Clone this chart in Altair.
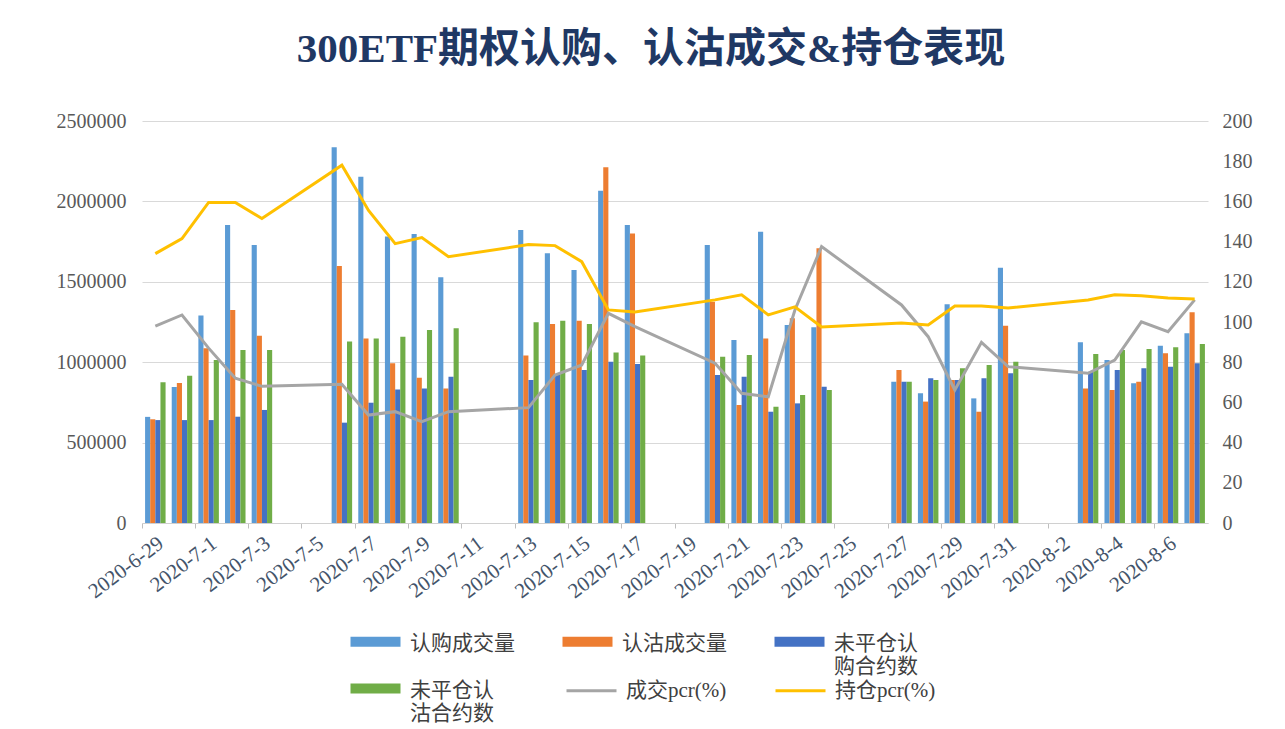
import altair as alt
import pandas as pd

# ---------------- data ----------------
trade_dates = ["2020-6-29", "2020-6-30", "2020-7-1", "2020-7-2", "2020-7-3",
               "2020-7-6", "2020-7-7", "2020-7-8", "2020-7-9", "2020-7-10",
               "2020-7-13", "2020-7-14", "2020-7-15", "2020-7-16", "2020-7-17",
               "2020-7-20", "2020-7-21", "2020-7-22", "2020-7-23", "2020-7-24",
               "2020-7-27", "2020-7-28", "2020-7-29", "2020-7-30", "2020-7-31",
               "2020-8-3", "2020-8-4", "2020-8-5", "2020-8-6", "2020-8-7"]

all_dates = ["2020-6-29", "2020-6-30", "2020-7-1", "2020-7-2", "2020-7-3", "2020-7-4",
             "2020-7-5", "2020-7-6", "2020-7-7", "2020-7-8", "2020-7-9", "2020-7-10",
             "2020-7-11", "2020-7-12", "2020-7-13", "2020-7-14", "2020-7-15", "2020-7-16",
             "2020-7-17", "2020-7-18", "2020-7-19", "2020-7-20", "2020-7-21", "2020-7-22",
             "2020-7-23", "2020-7-24", "2020-7-25", "2020-7-26", "2020-7-27", "2020-7-28",
             "2020-7-29", "2020-7-30", "2020-7-31", "2020-8-1", "2020-8-2", "2020-8-3",
             "2020-8-4", "2020-8-5", "2020-8-6", "2020-8-7"]

label_dates = ["2020-6-29", "2020-7-1", "2020-7-3", "2020-7-5", "2020-7-7", "2020-7-9",
               "2020-7-11", "2020-7-13", "2020-7-15", "2020-7-17", "2020-7-19", "2020-7-21",
               "2020-7-23", "2020-7-25", "2020-7-27", "2020-7-29", "2020-7-31", "2020-8-2",
               "2020-8-4", "2020-8-6"]

call_volume = [660000, 845000, 1290000, 1853000, 1729000,
               2336000, 2154000, 1781000, 1797000, 1528000,
               1822000, 1677000, 1573000, 2067000, 1853000,
               1729000, 1138000, 1812000, 1231000, 1217000,
               879000, 807000, 1360000, 775000, 1588000,
               1124000, 1014000, 869000, 1103000, 1180000]

put_volume = [645000, 870000, 1086000, 1325000, 1165000,
              1598000, 1148000, 993000, 904000, 837000,
              1041000, 1238000, 1258000, 2212000, 1801000,
              1376000, 734000, 1148000, 1273000, 1708000,
              951000, 755000, 889000, 692000, 1227000,
              837000, 827000, 879000, 1055000, 1310000]

call_open = [640000, 640000, 640000, 661000, 703000,
             624000, 748000, 831000, 837000, 910000,
             889000, 920000, 951000, 1003000, 989000,
             920000, 910000, 692000, 744000, 848000,
             879000, 900000, 889000, 900000, 931000,
             941000, 951000, 962000, 972000, 993000]

put_open = [875000, 915000, 1014000, 1076000, 1076000,
            1128000, 1148000, 1159000, 1200000, 1211000,
            1248000, 1258000, 1238000, 1061000, 1041000,
            1034000, 1045000, 723000, 796000, 827000,
            879000, 889000, 962000, 983000, 1003000,
            1051000, 1076000, 1082000, 1093000, 1113000]

trade_pcr = [98, 103.5, 87, 72, 68,
             69, 53.7, 55.4, 50.4, 55.4,
             57.4, 73.6, 78.6, 104.3, 97.7,
             79.5, 64.5, 62.8, 106, 137.5,
             108.5, 92.7, 66.2, 89.9, 77.8,
             74.5, 81, 100.1, 95.2, 111]

hold_pcr = [134, 141.5, 159.5, 159.5, 151.5,
            178, 155.5, 139, 142, 132.5,
            138.5, 138, 130, 106, 105,
            111, 113.5, 103.5, 107.5, 97.5,
            99.5, 98.5, 108, 108, 107,
            111, 113.5, 113, 112, 111.5]

bar_series = ["认购成交量", "认沽成交量", "未平仓认购合约数", "未平仓认沽合约数"]
bar_colors = ["#5B9BD5", "#ED7D31", "#4472C4", "#70AD47"]
line_series = ["成交pcr(%)", "持仓pcr(%)"]
line_colors = ["#A5A5A5", "#FFC000"]

# ---------------- tables ----------------
bar_rows = []
for s, vals in zip(bar_series, [call_volume, put_volume, call_open, put_open]):
    for i, (d, v) in enumerate(zip(trade_dates, vals)):
        bar_rows.append({"date": d, "series": s, "value": v, "idx": i})
bar_df = pd.DataFrame(bar_rows)

line_rows = []
for s, vals in zip(line_series, [trade_pcr, hold_pcr]):
    for i, (d, v) in enumerate(zip(trade_dates, vals)):
        line_rows.append({"date": d, "series": s, "value": v, "idx": i})
line_df = pd.DataFrame(line_rows)

SERIF = "Liberation Serif, Noto Sans CJK SC"

x_enc = alt.X(
    "date:N",
    sort=all_dates,
    scale=alt.Scale(domain=all_dates, paddingInner=0, paddingOuter=0),
    axis=alt.Axis(
        values=label_dates, bandPosition=0, labelAngle=323, labelAlign="right",
        labelBaseline="middle", labelOffset=6, labelPadding=13, tickSize=5,
        tickColor="#BFBFBF", domainColor="#D0D0D0", labelFont=SERIF,
        labelFontSize=21, labelColor="#44546A", labelOverlap=False, grid=False,
        title=None,
    ),
)

bars = alt.Chart(bar_df).mark_bar().encode(
    x=x_enc,
    xOffset=alt.XOffset("series:N", sort=bar_series,
                        scale=alt.Scale(domain=bar_series, paddingOuter=0.6, paddingInner=0)),
    y=alt.Y("value:Q", scale=alt.Scale(domain=[0, 2500000]),
            axis=alt.Axis(values=[0, 500000, 1000000, 1500000, 2000000, 2500000],
                          format="d", grid=True, gridColor="#D9D9D9", domain=False,
                          ticks=False, labelFont=SERIF, labelFontSize=20,
                          labelColor="#595959", labelPadding=16, title=None)),
    color=alt.Color("series:N", sort=bar_series,
                    scale=alt.Scale(domain=bar_series, range=bar_colors),
                    legend=alt.Legend(
                        title=None, orient="none", legendX=221, legendY=510,
                        direction="horizontal", columns=3, columnPadding=47,
                        rowPadding=1, padding=0,
                        symbolType="M-2,-0.56H2V0.24H-2Z", symbolSize=625,
                        symbolStrokeWidth=0, labelFont=SERIF, labelFontSize=21,
                        labelColor="#404040", labelOffset=22, labelLimit=400,
                        labelExpr="length(datum.label) > 5 ? [substring(datum.label, 0, 4), substring(datum.label, 4)] : [datum.label, '']",
                    )),
)

lines = alt.Chart(line_df).mark_line(strokeWidth=3).encode(
    x=x_enc,
    y=alt.Y("value:Q", scale=alt.Scale(domain=[0, 200]),
            axis=alt.Axis(orient="right", values=list(range(0, 201, 20)), grid=False,
                          domain=False, ticks=False, labelFont=SERIF, labelFontSize=20,
                          labelColor="#595959", labelPadding=14, title=None)),
    color=alt.Color("series:N", sort=line_series,
                    scale=alt.Scale(domain=line_series, range=line_colors),
                    legend=alt.Legend(
                        title=None, orient="none", legendX=423, legendY=543,
                        direction="horizontal", columns=2, columnPadding=42, padding=0,
                        symbolType="stroke", symbolSize=2500, symbolStrokeWidth=3,
                        labelFont=SERIF, labelFontSize=21, labelColor="#404040",
                        labelOffset=8, labelLimit=400,
                    )),
    order=alt.Order("idx:Q"),
)

chart = alt.layer(bars, lines).resolve_scale(
    y="independent", color="independent"
).properties(
    width=1066, height=402,
    padding={"left": 134, "top": 113, "right": 60, "bottom": 205},
    autosize=alt.AutoSizeParams(type="none"),
    background="white",
    title=alt.TitleParams(
        "300ETF期权认购、认沽成交&持仓表现", font=SERIF, fontSize=41,
        fontWeight="bold", color="#1F3864", anchor="middle", frame="group",
        offset=40, dx=-24,
    ),
).configure_view(stroke="transparent", strokeWidth=0)

chart.save("out.html", embed_options={"renderer": "svg", "actions": False})
